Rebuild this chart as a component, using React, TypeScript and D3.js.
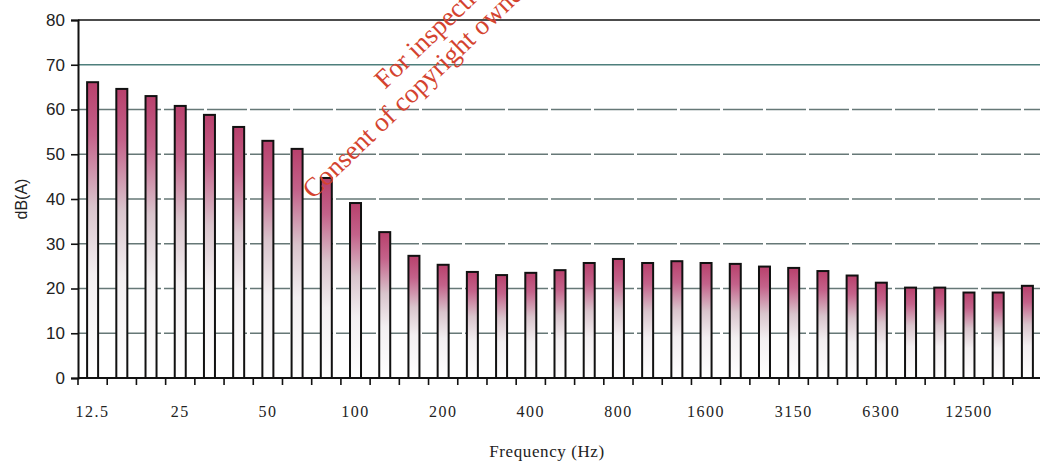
import React, { useEffect, useRef } from 'react';
import * as d3 from 'd3';

// third-octave band centres (Hz)
const bands = [
  '12.5', '16', '20', '25', '31.5', '40', '50', '63', '80', '100', '125',
  '160', '200', '250', '315', '400', '500', '630', '800', '1000', '1250',
  '1600', '2000', '2500', '3150', '4000', '5000', '6300', '8000', '10000',
  '12500', '16000', '20000',
];

// sound level per band, dB(A)
const levels = [
  66.1, 64.6, 63.0, 60.8, 58.8, 56.1, 53.0, 51.2, 44.7, 39.1, 32.6,
  27.3, 25.3, 23.7, 23.0, 23.5, 24.1, 25.7, 26.6, 25.7, 26.1,
  25.7, 25.5, 24.9, 24.6, 23.9, 22.9, 21.3, 20.2, 20.2,
  19.1, 19.1, 20.6,
];

const labelledBands = ['12.5', '25', '50', '100', '200', '400', '800', '1600', '3150', '6300', '12500'];
const yTicks = [0, 10, 20, 30, 40, 50, 60, 70, 80];

const W = 1040;
const H = 464;

const App = () => {
  const ref = useRef<SVGSVGElement | null>(null);

  useEffect(() => {
    const svg = d3.select(ref.current);
    svg.selectAll('*').remove();

    const margin = { top: 20, right: -2, bottom: 86, left: 78 };
    const innerH = H - margin.top - margin.bottom;

    const x = d3.scaleBand()
      .domain(bands)
      .range([margin.left, W - margin.right])
      .paddingInner(0)
      .paddingOuter(0);

    const y = d3.scaleLinear()
      .domain([0, 80])
      .range([margin.top + innerH, margin.top]);

    const defs = svg.append('defs');
    const grad = defs.append('linearGradient')
      .attr('id', 'barGrad')
      .attr('x1', '0%').attr('x2', '0%')
      .attr('y1', '0%').attr('y2', '100%');
    grad.append('stop').attr('offset', '0%').attr('stop-color', '#b8406c');
    grad.append('stop').attr('offset', '18%').attr('stop-color', '#c4628a');
    grad.append('stop').attr('offset', '42%').attr('stop-color', '#d9c4cc');
    grad.append('stop').attr('offset', '65%').attr('stop-color', '#f3eff1');
    grad.append('stop').attr('offset', '100%').attr('stop-color', '#ffffff');

    // gridlines
    svg.append('g')
      .selectAll('line')
      .data(yTicks.filter(t => t > 0 && t < 80))
      .enter()
      .append('line')
      .attr('x1', margin.left)
      .attr('x2', W)
      .attr('y1', d => y(d))
      .attr('y2', d => y(d))
      .attr('stroke', d => (d === 70 ? '#4e7f7c' : '#667877'))
      .attr('stroke-width', 1.4)
      .attr('stroke-dasharray', d => (d === 70 ? null : '40 3'));

    // top border line
    svg.append('line')
      .attr('x1', margin.left).attr('x2', W)
      .attr('y1', y(80)).attr('y2', y(80))
      .attr('stroke', '#111').attr('stroke-width', 1.6);

    // bars
    const barW = 11;
    svg.append('g')
      .selectAll('rect')
      .data(bands)
      .enter()
      .append('rect')
      .attr('x', d => (x(d) as number) + x.bandwidth() / 2 - barW / 2)
      .attr('y', (d, i) => y(levels[i]))
      .attr('width', barW)
      .attr('height', (d, i) => y(0) - y(levels[i]))
      .attr('fill', 'url(#barGrad)')
      .attr('stroke', '#111')
      .attr('stroke-width', 2);

    // y axis
    const yAxis = d3.axisLeft(y).tickValues(yTicks).tickSize(7).tickFormat(d3.format('d'));
    const yg = svg.append('g')
      .attr('transform', `translate(${margin.left},0)`)
      .call(yAxis);
    yg.select('.domain').attr('stroke', '#111').attr('stroke-width', 2);
    yg.selectAll('.tick line').attr('stroke', '#111').attr('stroke-width', 1.6);
    yg.selectAll('.tick text')
      .attr('x', -13)
      .attr('fill', '#222')
      .style('font-family', '"Liberation Sans", Arial, sans-serif')
      .style('font-size', '17px');

    // x axis: ticks on band edges
    const baseY = y(0);
    svg.append('line')
      .attr('x1', margin.left).attr('x2', W)
      .attr('y1', baseY).attr('y2', baseY)
      .attr('stroke', '#111').attr('stroke-width', 2);
    svg.append('g')
      .selectAll('line')
      .data(bands)
      .enter()
      .append('line')
      .attr('x1', d => x(d) as number)
      .attr('x2', d => x(d) as number)
      .attr('y1', baseY)
      .attr('y2', baseY + 7)
      .attr('stroke', '#111')
      .attr('stroke-width', 1.6);

    svg.append('g')
      .selectAll('text')
      .data(labelledBands)
      .enter()
      .append('text')
      .attr('x', d => (x(d) as number) + x.bandwidth() / 2)
      .attr('y', baseY + 39)
      .attr('text-anchor', 'middle')
      .attr('fill', '#222')
      .style('font-family', '"Liberation Serif", "Times New Roman", serif')
      .style('font-size', '16px')
      .style('letter-spacing', '1.5px')
      .text(d => d);

    // axis titles
    svg.append('text')
      .attr('x', 547)
      .attr('y', 457)
      .attr('text-anchor', 'middle')
      .attr('fill', '#222')
      .style('font-family', '"Liberation Serif", "Times New Roman", serif')
      .style('font-size', '17px')
      .style('letter-spacing', '0.6px')
      .text('Frequency (Hz)');

    svg.append('text')
      .attr('transform', `translate(27,${y(40)}) rotate(-90)`)
      .attr('text-anchor', 'middle')
      .attr('fill', '#222')
      .style('font-family', '"Liberation Sans", Arial, sans-serif')
      .style('font-size', '16px')
      .text('dB(A)');

    // watermark
    const wm = svg.append('g')
      .attr('fill', '#d4432f')
      .style('font-family', '"Liberation Serif", "Times New Roman", serif')
      .style('font-size', '27px');
    wm.append('text')
      .attr('transform', 'translate(385,90) rotate(-44)')
      .text('For inspection purposes only.');
    wm.append('text')
      .attr('transform', 'translate(313,200) rotate(-44)')
      .text('Consent of copyright owner required for any other use.');
  }, []);

  return (
    <svg
      ref={ref}
      width={W}
      height={H}
      style={{ position: 'absolute', left: 0, top: 0, background: '#fff' }}
    />
  );
};

export default App;
